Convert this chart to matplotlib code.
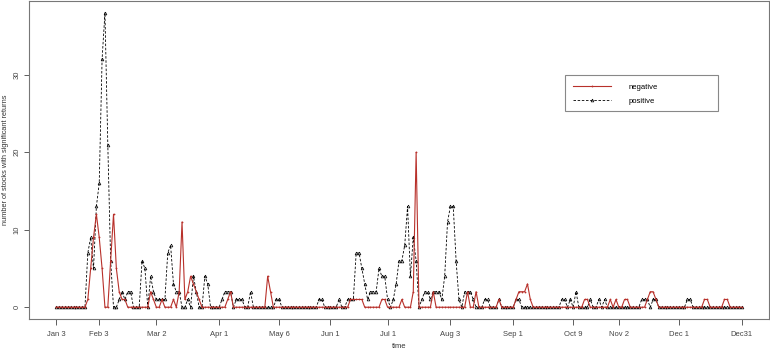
import matplotlib
matplotlib.use('Agg')
import matplotlib.pyplot as plt
import numpy as np
from matplotlib.patches import Rectangle

plt.rcParams['font.family'] = ['Liberation Sans', 'DejaVu Sans']

# daily counts (trading days)
negative = [
    0, 0, 0, 0, 0, 0, 0, 0, 0, 0,  0, 1, 5, 9, 12, 9, 5, 0, 0, 6,
    12, 5, 2, 1, 1, 0, 0, 0, 0, 0,  0, 0, 0, 2, 1, 0, 0, 1, 0, 0,
    0, 1, 0, 2, 11, 1, 2, 4, 3, 2,  1, 0, 0, 0, 0, 0, 0, 0, 0, 0,
    1, 2, 0, 0, 0, 0, 0, 0, 0, 0,  0, 0, 0, 0, 4, 2, 0, 0, 0, 0,
    0, 0, 0, 0, 0, 0, 0, 0, 0, 0,  0, 0, 0, 0, 0, 0, 0, 0, 0, 0,
    0, 0, 0, 1, 1, 1, 1, 1, 0, 0,  0, 0, 0, 0, 1, 1, 0, 0, 0, 0,
    0, 1, 0, 0, 0, 2, 20, 0, 0, 0,  0, 0, 2, 0, 0, 0, 0, 0, 0, 0,
    0, 0, 0, 0, 2, 0, 0, 2, 0, 0,  0, 0, 0, 0, 0, 1, 0, 0, 0, 0,
    0, 1, 2, 2, 2, 3, 1, 0, 0, 0,  0, 0, 0, 0, 0, 0, 0, 0, 0, 0,
    0, 0, 0, 0, 0, 1, 1, 0, 0, 0,  0, 0, 0, 0, 1, 0, 1, 0, 0, 1,
    1, 0, 0, 0, 0, 0, 0, 1, 2, 2,  1, 0, 0, 0, 0, 0, 0, 0, 0, 0,
    0, 0, 0, 0, 0, 0, 0, 1, 1, 0,  0, 0, 0, 0, 1, 1, 0, 0, 0, 0,
    0,
]
positive = [
    0, 0, 0, 0, 0, 0, 0, 0, 0, 0,  0, 7, 9, 5, 13, 16, 32, 38, 21, 6,
    0, 0, 1, 2, 1, 2, 2, 0, 0, 0,  6, 5, 0, 4, 2, 1, 1, 1, 1, 7,
    8, 3, 2, 2, 0, 0, 1, 0, 4, 2,  0, 0, 4, 3, 0, 0, 0, 0, 1, 2,
    2, 2, 0, 1, 1, 1, 0, 0, 2, 0,  0, 0, 0, 0, 0, 0, 0, 1, 1, 0,
    0, 0, 0, 0, 0, 0, 0, 0, 0, 0,  0, 0, 1, 1, 0, 0, 0, 0, 0, 1,
    0, 0, 1, 1, 1, 7, 7, 5, 3, 1,  2, 2, 2, 5, 4, 4, 1, 0, 1, 3,
    6, 6, 8, 13, 4, 9, 6, 0, 1, 2,  2, 1, 2, 2, 2, 1, 4, 11, 13, 13,
    6, 1, 0, 2, 2, 2, 1, 0, 0, 0,  1, 1, 0, 0, 0, 1, 0, 0, 0, 0,
    0, 1, 1, 0, 0, 0, 0, 0, 0, 0,  0, 0, 0, 0, 0, 0, 0, 1, 1, 0,
    1, 0, 2, 0, 0, 0, 0, 1, 0, 0,  1, 0, 1, 0, 0, 0, 0, 0, 0, 0,
    0, 0, 0, 0, 0, 1, 1, 1, 0, 1,  1, 0, 0, 0, 0, 0, 0, 0, 0, 0,
    0, 1, 1, 0, 0, 0, 0, 0, 0, 0,  0, 0, 0, 0, 0, 0, 0, 0, 0, 0,
    0,
]
tick_idx = [0, 15, 35, 57, 78, 96, 116, 138, 160, 181, 197, 218, 240]
tick_labels = ['Jan 3', 'Feb 3', 'Mar 2', 'Apr 1', 'May 6', 'Jun 1', 'Jul 1',
               'Aug 3', 'Sep 1', 'Oct 9', 'Nov 2', 'Dec 1', 'Dec31']

days = np.arange(len(negative))
red = '#b8312b'

fig = plt.figure(figsize=(7.7, 3.51), dpi=100)
ax = fig.add_axes([29 / 770, 32 / 351, 740 / 770, 318 / 351])

ax.plot(days, positive, color='black', linestyle=(0, (3, 2)), linewidth=0.6,
        marker='^', markersize=2, markerfacecolor='none', markeredgewidth=0.5,
        label='positive')
ax.plot(days, negative, color=red, linewidth=0.8, marker='o', markersize=1.3,
        markeredgewidth=0, label='negative')

n = len(negative) - 1
ax.set_xlim(-0.04 * n, 1.04 * n)
ax.set_ylim(-0.04 * 38, 38 * 1.04)

ax.set_xticks(tick_idx)
ax.set_xticklabels(tick_labels)
ax.set_yticks([0, 10, 20, 30])
ax.set_yticklabels(['0', '10', '20', '30'], rotation=90, va='center')
ax.tick_params(direction='out', width=0.6, colors='#444444', labelsize=5.5)
ax.tick_params(axis='x', length=4, pad=5)
ax.tick_params(axis='y', length=3.5, pad=2.5)
for s in ax.spines.values():
    s.set_color('#777777')
    s.set_linewidth(0.8)

# axis titles placed by hand so they stay inside the small canvas
fig.text(399 / 770, 1 - 346 / 351, 'time', fontsize=5.5, color='#333333',
         ha='center', va='center')
fig.text(5.5 / 770, 1 - 160 / 351, 'number of stocks with significant returns',
         fontsize=5.3, color='#333333', rotation=90, ha='center', va='center')

# legend box drawn like R's
ax.add_patch(Rectangle((0.7247, 0.654), 0.2068, 0.114, transform=ax.transAxes,
                       fill=False, edgecolor='#888888', linewidth=0.8))
h, l = ax.get_legend_handles_labels()
ax.legend(h[::-1], l[::-1], loc='upper left', bbox_to_anchor=(0.726, 0.762),
          frameon=False, fontsize=5.5, handlelength=5.0, handletextpad=2.3,
          numpoints=1, labelspacing=0.9)

fig.savefig('out.png', dpi=100)
